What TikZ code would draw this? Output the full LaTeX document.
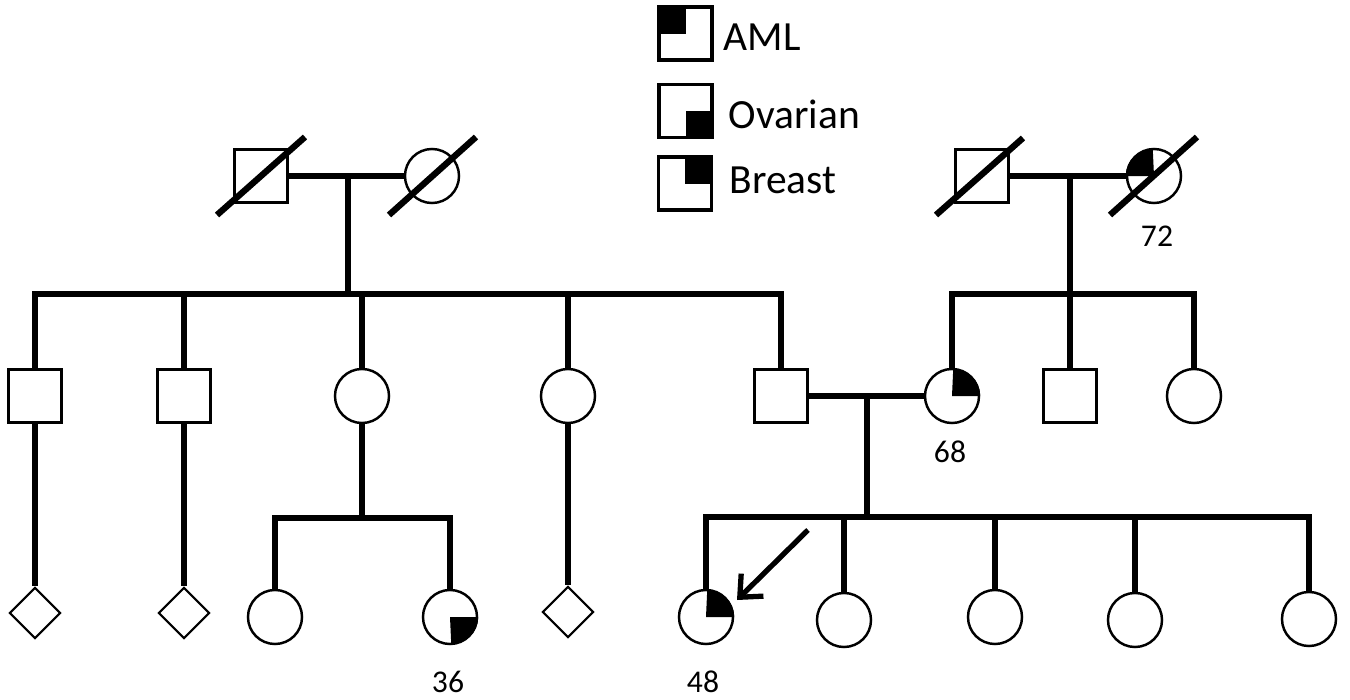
\documentclass[tikz,border=0pt]{standalone}
\usepackage{fontspec}
\setmainfont{Carlito}
\usetikzlibrary{shapes.geometric,calc,arrows.meta}
\begin{document}
\begin{tikzpicture}[x=0.01cm,y=0.01cm,
  sq/.style={draw,rectangle,minimum size=0.53cm,inner sep=0pt,line width=0.7pt},
  legsq/.style={sq,line width=0.9pt},
  ci/.style={draw,circle,minimum size=0.54cm,inner sep=0pt,line width=0.7pt},
  dia/.style={draw,diamond,minimum width=0.51cm,minimum height=0.51cm,inner sep=0pt,line width=0.6pt},
  rel/.style={line width=1.6pt},
  dead/.style={line width=1.8pt},
  num/.style={font=\fontsize{9}{11}\selectfont,inner sep=0pt},
  legtxt/.style={font=\fontsize{11.8}{14}\selectfont,inner sep=0pt,anchor=west},
  arr/.style={line width=1.5pt,-{Straight Barb[length=5pt,width=9pt]}}]
\useasboundingbox (0,0) rectangle (1350,-700);

% Legend
\node[legsq] (L1) at (685.5,-33.5) {};
\fill (L1.north west) rectangle (L1.center);
\node[legtxt] (T1) at (723,-37.5) {AML};
\node[legsq] (L2) at (685.5,-111) {};
\fill (L2.center) rectangle (L2.south east);
\node[legtxt] (T2) at (728,-114) {Ovarian};
\node[legsq] (L3) at (685,-183.5) {};
\fill (L3.center) rectangle (L3.north east);
\node[legtxt] (T3) at (729,-180) {Breast};

% Generation 1
\node[sq] (g1) at (261,-176) {};
\node[ci] (g2) at (432,-176) {};
\node[sq] (g3) at (982,-176) {};
\node[ci] (g4) at (1154,-176) {};
\fill (g4.center) -- (g4.west) arc[start angle=180,end angle=90,radius=0.27cm] -- cycle;
\draw[dead] ($(g1)+(-44,-39)$) -- ($(g1)+(44,39)$);
\draw[dead] ($(g2)+(-43,-39)$) -- ($(g2)+(44,39)$);
\draw[dead] ($(g3)+(-46,-39)$) -- ($(g3)+(41,38)$);
\draw[dead] ($(g4)+(-44,-39)$) -- ($(g4)+(43,39)$);
\node[num] (n72) at (1157,-236) {72};

\coordinate (m1) at (348,-176);
\coordinate (s1) at (348,-294);
\coordinate (m2) at (1070,-176);
\coordinate (s2) at (1070,-294);
\draw[rel] (g1) -- (g2);
\draw[rel] (m1) -- (s1);
\draw[rel] (g3) -- (g4);
\draw[rel] (m2) -- (s2);

% Generation 2
\node[sq] (A) at (35,-396) {};
\node[sq] (B) at (184,-396) {};
\node[ci] (C) at (362,-396) {};
\node[ci] (D) at (568,-396) {};
\node[sq] (E) at (781,-396) {};
\node[ci] (F) at (952,-396) {};
\node[sq] (G) at (1070,-396) {};
\node[ci] (H) at (1194,-396) {};
\fill (F.center) -- (F.east) arc[start angle=0,end angle=90,radius=0.27cm] -- cycle;
\node[num] (n68) at (950,-452) {68};

\draw[rel] (A.north) -- (A.north |- s1) -- (E.north |- s1) -- (E.north);
\foreach \n in {B,C,D} \draw[rel] (\n.north) -- (\n.north |- s1);
\draw[rel] (F.north) -- (F.north |- s2) -- (H.north |- s2) -- (H.north);
\draw[rel] (G.north) -- (G.north |- s2);

\coordinate (m3) at (867,-396);
\coordinate (s4) at (867,-517);
\draw[rel] (E) -- (F);
\draw[rel] (m3) -- (s4);

% Generation 3
\node[dia] (d1) at (35,-613) {};
\node[dia] (d2) at (184,-613) {};
\node[dia] (d3) at (568,-612) {};
\draw[rel] (A) -- (d1);
\draw[rel] (B) -- (d2);
\draw[rel] (D) -- (d3);

\node[ci] (k1) at (275,-617) {};
\node[ci] (k2) at (450,-617) {};
\fill (k2.center) -- (k2.east) arc[start angle=0,end angle=-90,radius=0.27cm] -- cycle;
\coordinate (s3) at (362,-518);
\draw[rel] (C) -- (s3);
\draw[rel] (k1.north) -- (k1.north |- s3) -- (k2.north |- s3) -- (k2.north);
\node[num] (n36) at (448,-682) {36};

\node[ci] (P) at (706,-617) {};
\fill (P.center) -- (P.east) arc[start angle=0,end angle=90,radius=0.27cm] -- cycle;
\node[ci] (Q1) at (844,-620) {};
\node[ci] (Q2) at (995,-617) {};
\node[ci] (Q3) at (1135,-620) {};
\node[ci] (Q4) at (1309,-619) {};
\draw[rel] (P.north) -- (P.north |- s4) -- (Q4.north |- s4) -- (Q4.north);
\foreach \n in {Q1,Q2,Q3} \draw[rel] (\n.north) -- (\n.north |- s4);
\node[num] (n48) at (703,-682) {48};

\coordinate (aS) at (808,-530);
\coordinate (aE) at (737,-600);
\draw[arr] (aS) -- (aE);
\end{tikzpicture}
\end{document}
